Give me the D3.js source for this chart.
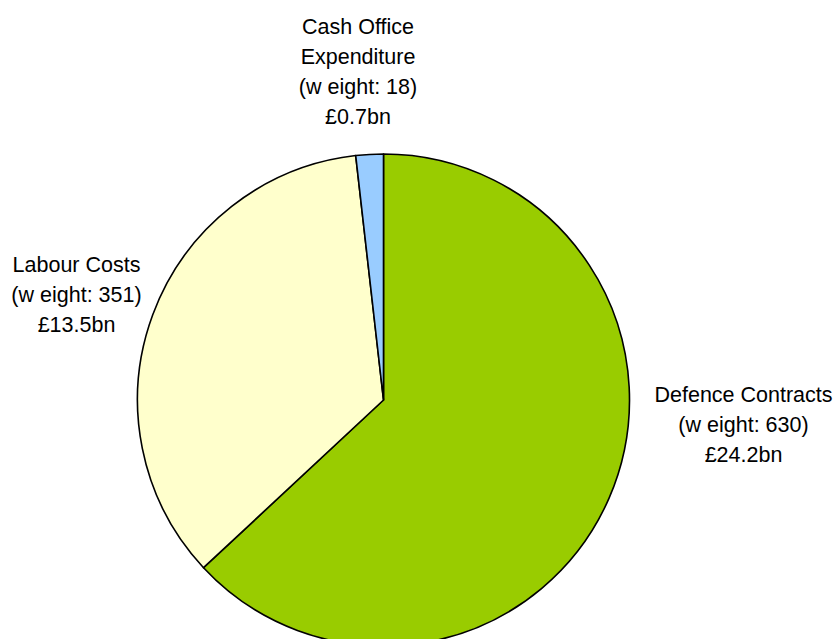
<!DOCTYPE html>
<html>
<head>
<meta charset="utf-8">
<script src="https://cdn.jsdelivr.net/npm/d3@7"></script>
<style>
  html, body { margin: 0; padding: 0; background: #fff; }
  svg { display: block; }
  text { font-family: "Liberation Sans", Arial, sans-serif; font-size: 21.5px; fill: #000; }
</style>
</head>
<body>
<svg id="chart" width="836" height="639"></svg>
<script>
// Spending categories, their weights and amounts
const categories = ["Defence Contracts", "Labour Costs", "Cash Office Expenditure"];
const weights = [630, 351, 18];
const amounts = ["£24.2bn", "£13.5bn", "£0.7bn"];
const colors = ["#99CC00", "#FFFFCC", "#99CCFF"];

// Label text lines for each slice
const labelLines = [
  ["Defence Contracts", "(w eight: 630)", "£24.2bn"],
  ["Labour Costs", "(w eight: 351)", "£13.5bn"],
  ["Cash Office", "Expenditure", "(w eight: 18)", "£0.7bn"]
];
// Label block centres (x) and first baselines (y)
const labelPos = [[743.5, 402], [76.5, 272], [358, 34]];

const width = 836, height = 639;
const cx = 383.5, cy = 400, radius = 246;
const lineH = 30;

const svg = d3.select("#chart");
const g = svg.append("g").attr("transform", `translate(${cx},${cy})`);

const data = categories.map((c, i) => ({ name: c, weight: weights[i], amount: amounts[i], color: colors[i] }));

const pie = d3.pie().sort(null).value(d => d.weight);
const arc = d3.arc().innerRadius(0).outerRadius(radius);

g.selectAll("path.slice")
  .data(pie(data))
  .join("path")
  .attr("class", "slice")
  .attr("d", arc)
  .attr("fill", d => d.data.color)
  .attr("stroke", "#000")
  .attr("stroke-width", 1.6)
  .attr("stroke-linejoin", "round");

const labels = svg.selectAll("text.lbl")
  .data(labelLines)
  .join("text")
  .attr("class", "lbl")
  .attr("text-anchor", "middle");

labels.each(function (lines, i) {
  const t = d3.select(this);
  lines.forEach((line, j) => {
    t.append("tspan")
      .attr("x", labelPos[i][0])
      .attr("y", labelPos[i][1] + j * lineH)
      .text(line);
  });
});
</script>
</body>
</html>
